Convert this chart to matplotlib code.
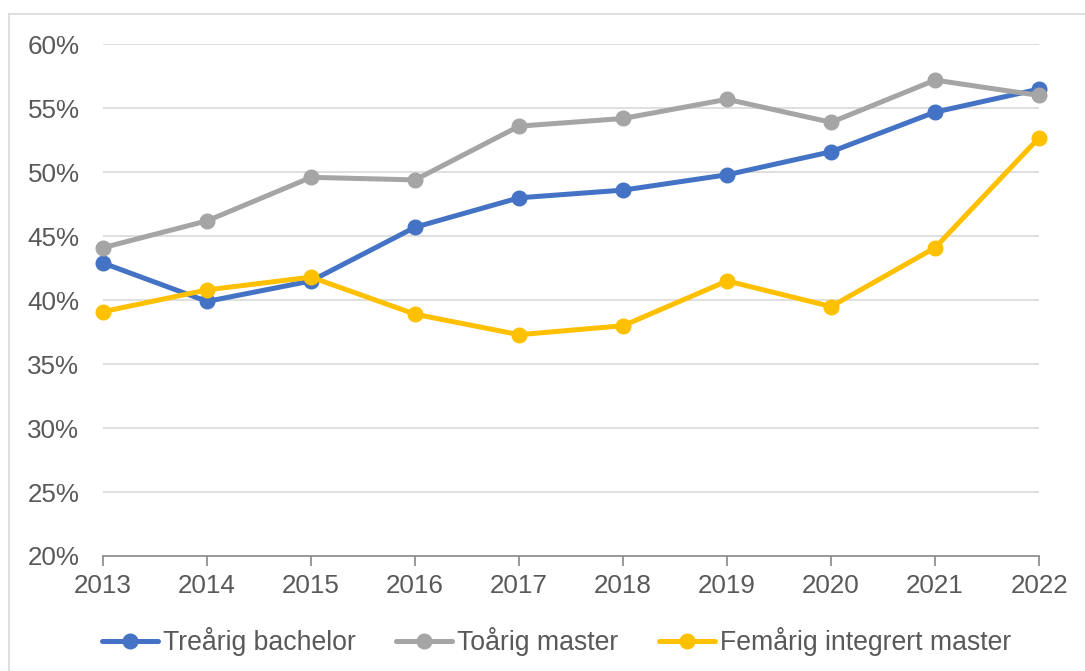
import numpy as np
import matplotlib.pyplot as plt
from matplotlib.lines import Line2D

plt.rcParams['font.family'] = ['Liberation Sans', 'DejaVu Sans']

years = [2013, 2014, 2015, 2016, 2017, 2018, 2019, 2020, 2021, 2022]
bachelor = [42.9, 39.9, 41.5, 45.7, 48.0, 48.6, 49.8, 51.6, 54.7, 56.5]
master2 = [44.1, 46.2, 49.6, 49.4, 53.6, 54.2, 55.7, 53.9, 57.2, 56.0]
master5 = [39.1, 40.8, 41.8, 38.9, 37.3, 38.0, 41.5, 39.5, 44.1, 52.7]

fig = plt.figure(figsize=(10.85, 6.71), dpi=100)
ax = fig.add_axes([0.095, 0.1714, 0.8627, 0.7626])

series = [
    (bachelor, '#4472C4', 'Treårig bachelor'),
    (master2, '#A5A5A5', 'Toårig master'),
    (master5, '#FFC000', 'Femårig integrert master'),
]
for vals, col, name in series:
    ax.plot(years, vals, color=col, lw=3.6, marker='o', ms=10.5,
            solid_capstyle='round', label=name, zorder=3, clip_on=False)

ax.set_ylim(20, 60)
ax.set_xlim(2013, 2022)
ax.set_yticks(np.arange(20, 61, 5))
ax.set_yticklabels([f'{v}%' for v in range(20, 61, 5)])
ax.set_xticks(years)
ax.grid(axis='y', color='#D9D9D9', lw=1.2)
ax.set_axisbelow(True)
for s in ['top', 'right', 'left']:
    ax.spines[s].set_visible(False)
ax.spines['bottom'].set_color('#898989')
ax.spines['bottom'].set_linewidth(1.2)
ax.tick_params(axis='y', length=0, labelsize=18.7, colors='#595959', pad=17)
ax.tick_params(axis='x', length=7, width=1.2, color='#898989',
               labelsize=18.7, labelcolor='#595959', pad=6)

leg = fig.legend(loc='center', bbox_to_anchor=(0.513, 1 - 642 / 671), ncol=3,
                 frameon=False, fontsize=19.2, handlelength=2.1,
                 columnspacing=1.5, handletextpad=0.2)
for t in leg.get_texts():
    t.set_color('#595959')

# chart frame (top and left edges visible)
fig.add_artist(Line2D([9 / 1085, 1], [1 - 14 / 671] * 2, transform=fig.transFigure,
                      color='#D9D9D9', lw=1.2))
fig.add_artist(Line2D([9 / 1085] * 2, [0, 1 - 14 / 671], transform=fig.transFigure,
                      color='#D9D9D9', lw=1.2))

fig.savefig('out.png', dpi=100)
